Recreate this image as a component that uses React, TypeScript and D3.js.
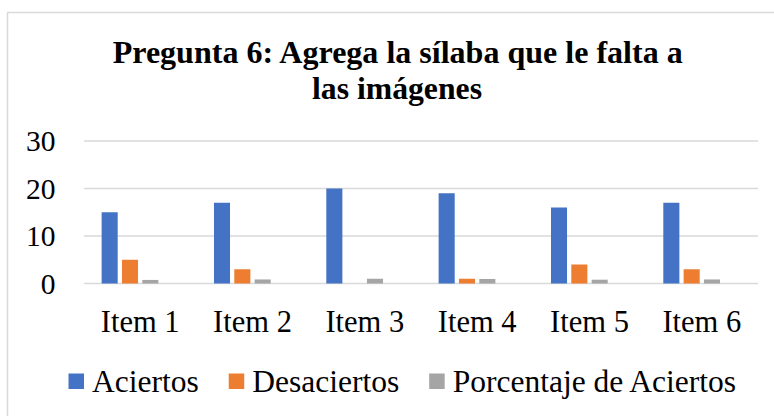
import React, { useEffect, useRef } from "react";
import * as d3 from "d3";

const categories = ["Item 1", "Item 2", "Item 3", "Item 4", "Item 5", "Item 6"];
const seriesNames = ["Aciertos", "Desaciertos", "Porcentaje de Aciertos"];
const aciertos = [15, 17, 20, 19, 16, 17];
const desaciertos = [5, 3, 0, 1, 4, 3];
const porcentaje = [0.75, 0.85, 1, 0.95, 0.8, 0.85];
const colors = ["#4472C4", "#ED7D31", "#A5A5A5"];
const yTicks = [0, 10, 20, 30];
const titleLines = ["Pregunta 6: Agrega la sílaba que le falta a", "las imágenes"];

const FONT = '"Liberation Serif", "Times New Roman", serif';

export default function App() {
  const ref = useRef<SVGSVGElement>(null);

  useEffect(() => {
    const width = 774;
    const height = 416;
    const plot = { left: 84, right: 758, top: 141, bottom: 283.5 };

    const svg = d3.select(ref.current).attr("width", width).attr("height", height);
    svg.selectAll("*").remove();

    svg.append("rect")
      .attr("x", 7.5).attr("y", 12.5)
      .attr("width", 800).attr("height", 420)
      .attr("fill", "#fff")
      .attr("stroke", "#D9D9D9")
      .attr("stroke-width", 1.5);

    // title
    titleLines.forEach((line, i) => {
      svg.append("text")
        .attr("x", i === 0 ? 397.7 : 397)
        .attr("y", i === 0 ? 63.3 : 99.3)
        .attr("text-anchor", "middle")
        .style("font-family", FONT)
        .style("font-weight", "bold")
        .style("font-size", "32.5px")
        .attr("textLength", i === 0 ? 570 : 170)
        .attr("lengthAdjust", "spacingAndGlyphs")
        .text(line);
    });

    const x0 = d3.scaleBand<string>()
      .domain(categories)
      .range([plot.left, plot.right])
      .paddingInner(0.314)
      .paddingOuter(0.157);

    // four slots per group, the last one stays empty
    const x1 = d3.scaleBand<number>()
      .domain([0, 1, 2, 3])
      .range([0, x0.bandwidth()])
      .paddingInner(0.21)
      .paddingOuter(0);

    const y = d3.scaleLinear().domain([0, 30]).range([plot.bottom, plot.top]);

    // gridlines
    svg.append("g")
      .selectAll("line")
      .data(yTicks)
      .join("line")
      .attr("x1", plot.left).attr("x2", plot.right)
      .attr("y1", d => y(d)).attr("y2", d => y(d))
      .attr("stroke", "#D9D9D9")
      .attr("stroke-width", 1.5);

    // y labels
    svg.append("g")
      .selectAll("text")
      .data(yTicks)
      .join("text")
      .attr("x", 55.5)
      .attr("y", d => y(d) + 10)
      .attr("text-anchor", "end")
      .style("font-family", FONT)
      .style("font-size", "29.5px")
      .attr("fill", "#000")
      .text(d => d);

    const series = [aciertos, desaciertos, porcentaje];
    series.forEach((vals, s) => {
      svg.append("g")
        .selectAll("rect")
        .data(vals)
        .join("rect")
        .attr("x", (_, i) => (x0(categories[i]) as number) + (x1(s) as number))
        .attr("y", d => y(d))
        .attr("width", x1.bandwidth())
        .attr("height", d => y(0) - y(d))
        .attr("fill", colors[s]);
    });

    // x labels
    svg.append("g")
      .selectAll("text")
      .data(categories)
      .join("text")
      .attr("x", d => (x0(d) as number) + x0.bandwidth() / 2)
      .attr("y", 332)
      .attr("text-anchor", "middle")
      .style("font-family", FONT)
      .style("font-size", "30.5px")
      .attr("fill", "#000")
      .text(d => d);

    // legend
    const legend = svg.append("g");
    const box = 15.5;
    const gapText = 8;
    const gapItem = 30;
    let cx = 0;
    seriesNames.forEach((name, i) => {
      const g = legend.append("g").attr("transform", `translate(${cx},0)`);
      g.append("rect")
        .attr("x", 0).attr("y", 373.5)
        .attr("width", box).attr("height", box)
        .attr("fill", colors[i]);
      const t = g.append("text")
        .attr("x", box + gapText).attr("y", 391.7)
        .style("font-family", FONT)
        .style("font-size", "31.5px")
        .attr("fill", "#000")
        .text(name);
      const w = (t.node() as SVGTextElement).getComputedTextLength();
      cx += box + gapText + w + gapItem;
    });
    const total = cx - gapItem;
    legend.attr("transform", `translate(${402.3 - total / 2},0)`);
  }, []);

  return <svg ref={ref} style={{ position: "absolute", left: 0, top: 0 }} />;
}
